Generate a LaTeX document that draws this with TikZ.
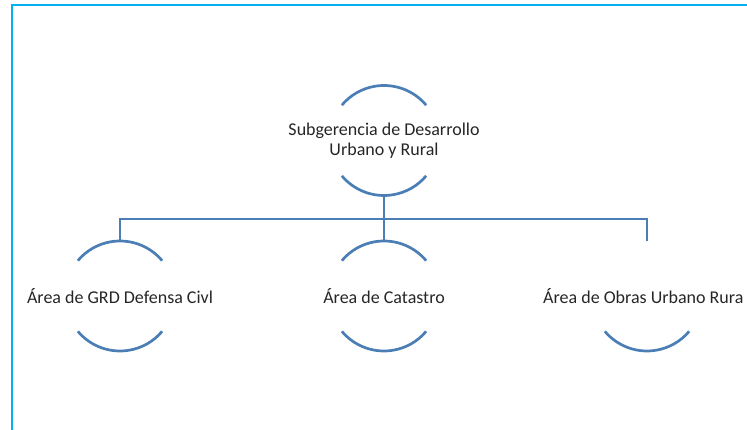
\documentclass[tikz,border=0pt]{standalone}
\usepackage{fontspec}
\setmainfont{Carlito}
\definecolor{frame}{HTML}{00B0F0}
\definecolor{link}{HTML}{4A7EB5}
\definecolor{txt}{HTML}{262626}
\begin{document}
\begin{tikzpicture}[x=1pt,y=1pt,
  unit/.style={circle,minimum size=110pt,inner sep=0pt},
  label/.style={align=center,text=txt,inner sep=0pt,font=\fontsize{18}{20}\selectfont},
  ring/.style={draw=link,line width=2.7pt},
  wire/.style={draw=link,line width=2.7pt}]
\useasboundingbox (0,0) rectangle (747,430);
\clip (0,0) rectangle (747,430);
\draw[frame,line width=2.2pt] (12,0) -- (12,425) -- (747,425);
\node[unit] (top) at (384,289.5) {};
\node[unit] (left) at (120,134) {};
\node[unit] (mid) at (384,134) {};
\node[unit] (right) at (647,134) {};
\node[label] (topt) at (top.center) {Subgerencia de Desarrollo\\Urbano y Rural};
\node[label] (leftt) at (left.center) {Área de GRD Defensa Civl};
\node[label] (midt) at (mid.center) {Área de Catastro};
\node[label,anchor=west] (rightt) at ([xshift=-104pt]right.center) {Área de Obras Urbano Rura};
\coordinate (bus) at (384,211);
\foreach \n in {top,left,mid}{
  \draw[ring] ([shift={(40:55)}]\n.center) arc[start angle=40,end angle=140,radius=55];
}
\foreach \n in {top,left,mid,right}{
  \draw[ring] ([shift={(220:55)}]\n.center) arc[start angle=220,end angle=320,radius=55];
}
\draw[wire] (top.south) -- (mid.north);
\draw[wire] (left.north) -- (left.north |- bus) -- (right.north |- bus) -- (right.north);
\end{tikzpicture}
\end{document}
